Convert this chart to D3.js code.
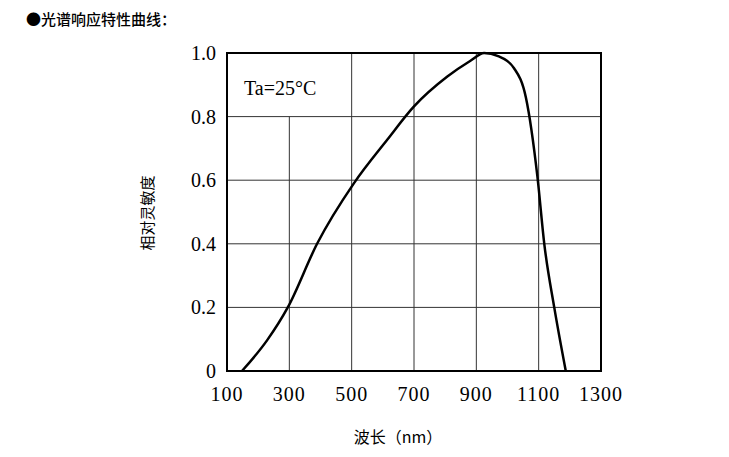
<!DOCTYPE html><html><head><meta charset="utf-8"><script src="https://cdn.jsdelivr.net/npm/d3@7"></script>
<style>body{margin:0;background:#fff}</style></head><body><svg id="c" width="729" height="457"></svg><script>
const wavelength=[148,229,295,389,507,614,700,807,880,925,970,1021,1059,1096,1118,1150,1187];
const response=[0,0.097,0.2,0.40,0.59,0.727,0.832,0.926,0.975,1.0,0.99,0.952,0.86,0.611,0.40,0.20,0];
const xTicks=[100,300,500,700,900,1100,1300];
const yTicks=[0,0.2,0.4,0.6,0.8,1.0];
const yLabels=["0","0.2","0.4","0.6","0.8","1.0"];
const svg=d3.select("#c");
const x=d3.scaleLinear().domain([100,1300]).range([227,601]);
const y=d3.scaleLinear().domain([0,1]).range([371,53]);
const f="'Liberation Serif','Times New Roman',serif";
yTicks.slice(1,5).forEach(t=>svg.append("line").attr("x1",x(100)).attr("x2",x(1300)).attr("y1",y(t)).attr("y2",y(t)).attr("stroke","#333").attr("stroke-width",1));
xTicks.slice(1,6).forEach(t=>svg.append("line").attr("x1",x(t)).attr("x2",x(t)).attr("y1",t==300?y(0.8):y(1)).attr("y2",y(0)).attr("stroke","#333").attr("stroke-width",1));
svg.append("rect").attr("x",x(100)).attr("y",y(1)).attr("width",x(1300)-x(100)).attr("height",y(0)-y(1)).attr("fill","none").attr("stroke","#000").attr("stroke-width",2);
svg.append("path").datum(wavelength.map((w,i)=>[w,response[i]])).attr("d",d3.line().x(d=>x(d[0])).y(d=>y(d[1])).curve(d3.curveMonotoneX)).attr("fill","none").attr("stroke","#000").attr("stroke-width",2.5);
xTicks.forEach(t=>svg.append("text").attr("x",x(t)).attr("y",401).attr("text-anchor","middle").attr("font-family",f).attr("font-size",20).attr("letter-spacing",1).text(t));
yTicks.forEach((t,i)=>svg.append("text").attr("x",216).attr("y",y(t)+7).attr("text-anchor","end").attr("font-family",f).attr("font-size",20).text(yLabels[i]));
svg.append("text").attr("x",244).attr("y",95).attr("font-family",f).attr("font-size",20).text("Ta=25°C");
svg.append("text").attr("x",398).attr("y",443).attr("text-anchor","middle").attr("font-family","'Noto Sans CJK SC'").attr("font-size",16).text("波长（nm）");
svg.append("text").attr("transform","translate(153,213) rotate(-90)").attr("text-anchor","middle").attr("font-family","'Noto Sans CJK SC'").attr("font-size",15).text("相对灵敏度");
svg.append("text").attr("x",26).attr("y",25).attr("font-family","'Noto Sans CJK SC'").attr("font-size",15).attr("font-weight","500").text("●光谱响应特性曲线：");
</script></body></html>
